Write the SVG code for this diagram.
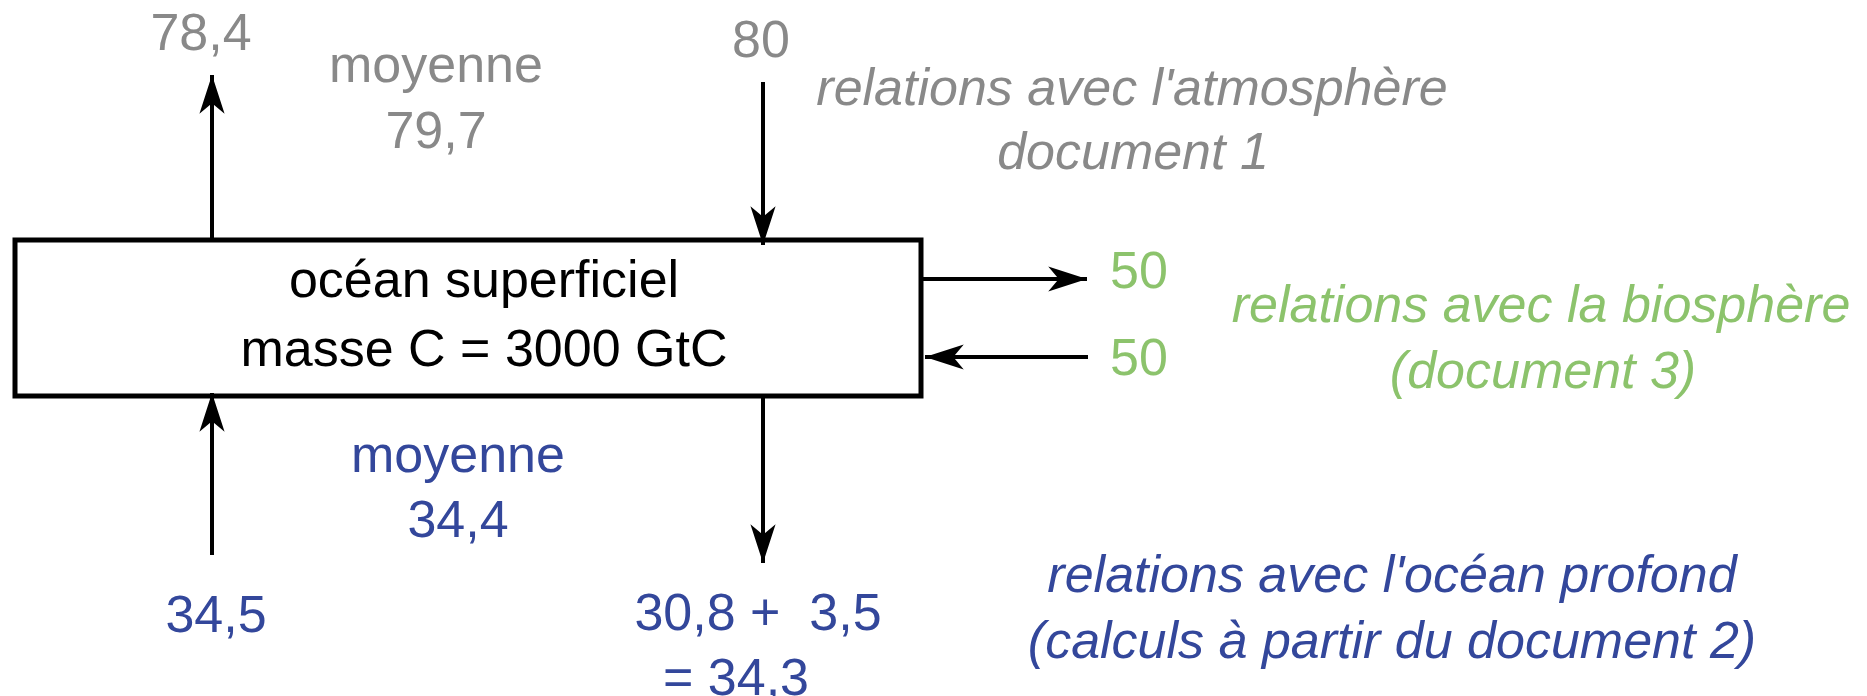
<svg xmlns="http://www.w3.org/2000/svg" width="1867" height="696" viewBox="0 0 1867 696">
<style>
text{font-family:"Liberation Sans",Arial,sans-serif;font-size:52px;text-anchor:middle}
.gray{fill:#898989}
.green{fill:#8cc36c}
.blue{fill:#33479b}
.it{font-style:italic}
.blk{fill:#000}
.conn{stroke:#000;stroke-width:4;fill:none;marker-end:url(#ah)}
</style>
<defs>
<marker id="ah" markerUnits="userSpaceOnUse" markerWidth="44" markerHeight="30" viewBox="-40 -14 42 28" refX="0" refY="0" orient="auto">
<path d="M0,0 L-37,-12 L-27,0 L-37,12 Z" fill="#000"/>
</marker>
</defs>
<rect width="1867" height="696" fill="#fff"/>
<g id="ocean">
<rect x="15" y="240" width="906" height="156" fill="#fff" stroke="#000" stroke-width="5"/>
<text class="blk" x="484" y="297">océan superficiel</text>
<text class="blk" x="484" y="366">masse C = 3000 GtC</text>
</g>
<g id="connectors">
<line class="conn" x1="212" y1="238" x2="212" y2="75"/>
<line class="conn" x1="763" y1="82" x2="763" y2="245"/>
<line class="conn" x1="923" y1="279" x2="1087" y2="279"/>
<line class="conn" x1="1088" y1="357" x2="925" y2="357"/>
<line class="conn" x1="212" y1="555" x2="212" y2="393"/>
<line class="conn" x1="763" y1="398" x2="763" y2="563"/>
</g>
<g id="atmosphere">
<text class="gray" x="201" y="50">78,4</text>
<text class="gray" x="436" y="82">moyenne</text>
<text class="gray" x="436" y="148">79,7</text>
<text class="gray" x="761" y="57">80</text>
<text class="gray it" x="1132" y="105">relations avec l'atmosphère</text>
<text class="gray it" x="1133" y="169">document 1</text>
</g>
<g id="biosphere">
<text class="green" x="1139" y="288">50</text>
<text class="green" x="1139" y="375">50</text>
<text class="green it" x="1541" y="322">relations avec la biosphère</text>
<text class="green it" x="1543" y="388">(document 3)</text>
</g>
<g id="deep-ocean">
<text class="blue" x="458" y="472">moyenne</text>
<text class="blue" x="458" y="537">34,4</text>
<text class="blue" x="216" y="632">34,5</text>
<text class="blue" x="758" y="630" xml:space="preserve">30,8 +  3,5</text>
<text class="blue" x="736" y="695">= 34,3</text>
<text class="blue it" x="1392" y="592">relations avec l'océan profond</text>
<text class="blue it" x="1392" y="658">(calculs à partir du document 2)</text>
</g>
</svg>
